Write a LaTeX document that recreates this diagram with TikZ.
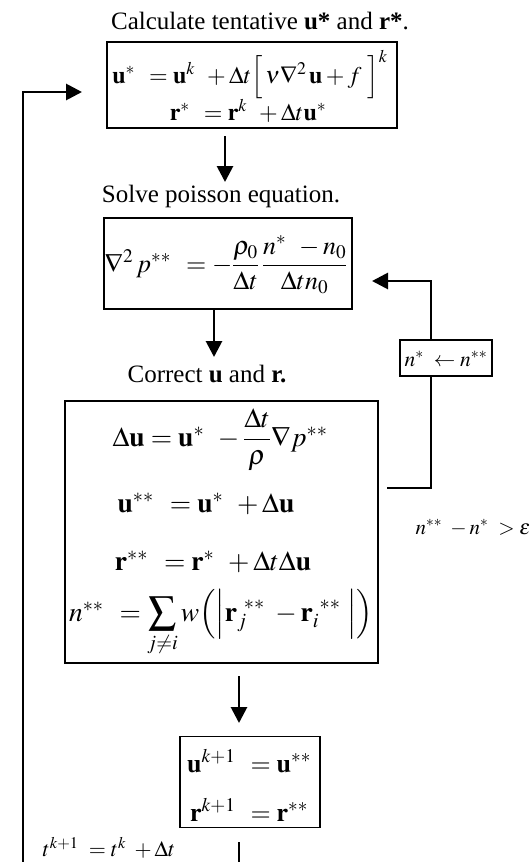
\documentclass[tikz,border=0pt]{standalone}
\usepackage{amsmath}
\usepackage{mathptmx}
\usepackage[no-math]{fontspec}
\setmainfont{Liberation Serif}
\usetikzlibrary{arrows.meta}
\tikzset{
  box/.style={draw, line width=1.5pt, inner sep=0pt},
  arr/.style={line width=2.8pt, -{Triangle[length=16pt,width=16pt]}},
  ln/.style={line width=2.2pt},
  lbl/.style={inner sep=0pt, anchor=base}
}
\begin{document}
\begin{tikzpicture}[x=1pt,y=-1pt]
\useasboundingbox (0,0) rectangle (532,862);
% titles
\node[lbl,font=\fontsize{25}{28}\selectfont] (t1) at (260,29) {Calculate tentative \textbf{u*} and \textbf{r*}.};
\node[lbl,font=\fontsize{25}{28}\selectfont] (t2) at (221,202) {Solve poisson equation.};
\node[lbl,font=\fontsize{25}{28}\selectfont] (t3) at (207,382) {Correct \textbf{u} and \textbf{r.}};
% box1
\node[box,minimum width=290pt,minimum height=86pt] (b1) at (252,85) {};
\node[lbl,font=\fontsize{24}{26}\selectfont] (b1a) at (250,83)
 {$\mathbf{u}^{*}\ \,=\mathbf{u}^{k}\ \,+\Delta t\Bigl[\,\nu\nabla^{2}\,\mathbf{u}+f\ \Bigr]^{k}$};
\node[lbl,font=\fontsize{24}{26}\selectfont] (b1b) at (248,120)
 {$\mathbf{r}^{*}\ \,=\mathbf{r}^{k}\ \,+\Delta t\mathbf{u}^{*}$};
% box2
\node[box,minimum width=248pt,minimum height=91pt] (b2) at (228,263.5) {};
\node[lbl,font=\fontsize{26}{28}\selectfont] (b2a) at (226,272)
 {$\nabla^{2}\,p^{**}\ \,=-\dfrac{\rho_{0}}{\Delta t}\,\dfrac{n^{*}\ \,-n_{0}}{\Delta t n_{0}}$};
% box3
\node[box,minimum width=313pt,minimum height=262pt] (b3) at (221.5,532) {};
\node[lbl,font=\fontsize{27.5}{30}\selectfont] (b3a) at (220,446)
 {$\Delta\mathbf{u}=\mathbf{u}^{*}\ \,-\dfrac{\Delta t}{\rho}\nabla p^{**}$};
\node[lbl,font=\fontsize{27.5}{30}\selectfont] (b3b) at (206,512)
 {$\mathbf{u}^{**}\ \,=\mathbf{u}^{*}\ \,+\Delta\mathbf{u}$};
\node[lbl,font=\fontsize{27.5}{30}\selectfont] (b3c) at (213,570)
 {$\mathbf{r}^{**}\ \,=\mathbf{r}^{*}\ \,+\Delta t\Delta\mathbf{u}$};
\node[lbl,font=\fontsize{27.5}{30}\selectfont] (b3d) at (221,621)
 {$n^{**}\ \,=\displaystyle\sum_{j\neq i}w\Bigl(\Bigl|\mathbf{r}_{j}^{\ **}\ -\mathbf{r}_{i}^{\ **}\ \Bigr|\Bigr)$};
% box4
\node[box,minimum width=140pt,minimum height=91pt] (b4) at (250,782) {};
\node[lbl,font=\fontsize{26}{28}\selectfont] (b4a) at (249,772)
 {$\mathbf{u}^{k+1}\ \,=\mathbf{u}^{**}$};
\node[lbl,font=\fontsize{26}{28}\selectfont] (b4b) at (249,821)
 {$\mathbf{r}^{k+1}\ \,=\mathbf{r}^{**}$};
% small box
\node[box,minimum width=92pt,minimum height=36pt] (sb) at (446,358) {};
\node[lbl,font=\fontsize{21.5}{24}\selectfont] (sba) at (446,366) {$n^{*}\ \leftarrow n^{**}$};
% labels
\node[lbl,font=\fontsize{21}{24}\selectfont] (cond) at (473,534) {$n^{**}\ -n^{*}\ >\varepsilon$};
\node[lbl,font=\fontsize{22}{24}\selectfont] (tt) at (109,856) {$t^{k+1}\ =t^{k}\ +\Delta t$};
% coordinates
\coordinate (a1s) at (225,136); \coordinate (a1e) at (225,182);
\coordinate (a2s) at (214,309); \coordinate (a2e) at (214,357);
\coordinate (a3s) at (239,676); \coordinate (a3e) at (239,723);
\coordinate (fbL) at (387,488); \coordinate (fbR) at (431,488);
\coordinate (fbT) at (431,281); \coordinate (fbE) at (372,281);
\coordinate (bl) at (239,842); \coordinate (bb) at (239,862);
\coordinate (lb) at (23,862); \coordinate (lt) at (23,92); \coordinate (le) at (82,92);
% arrows
\draw[arr] (a1s) -- (a1e);
\draw[arr] (a2s) -- (a2e);
\draw[arr] (a3s) -- (a3e);
\draw[ln] (fbL) -- (fbR) -- (sb.south -| fbR);
\draw[arr] (sb.north -| fbT) -- (fbT) -- (fbE);
\draw[ln] (bl) -- (bb);
\draw[arr] (lb) -- (lt) -- (le);
\end{tikzpicture}
\end{document}
